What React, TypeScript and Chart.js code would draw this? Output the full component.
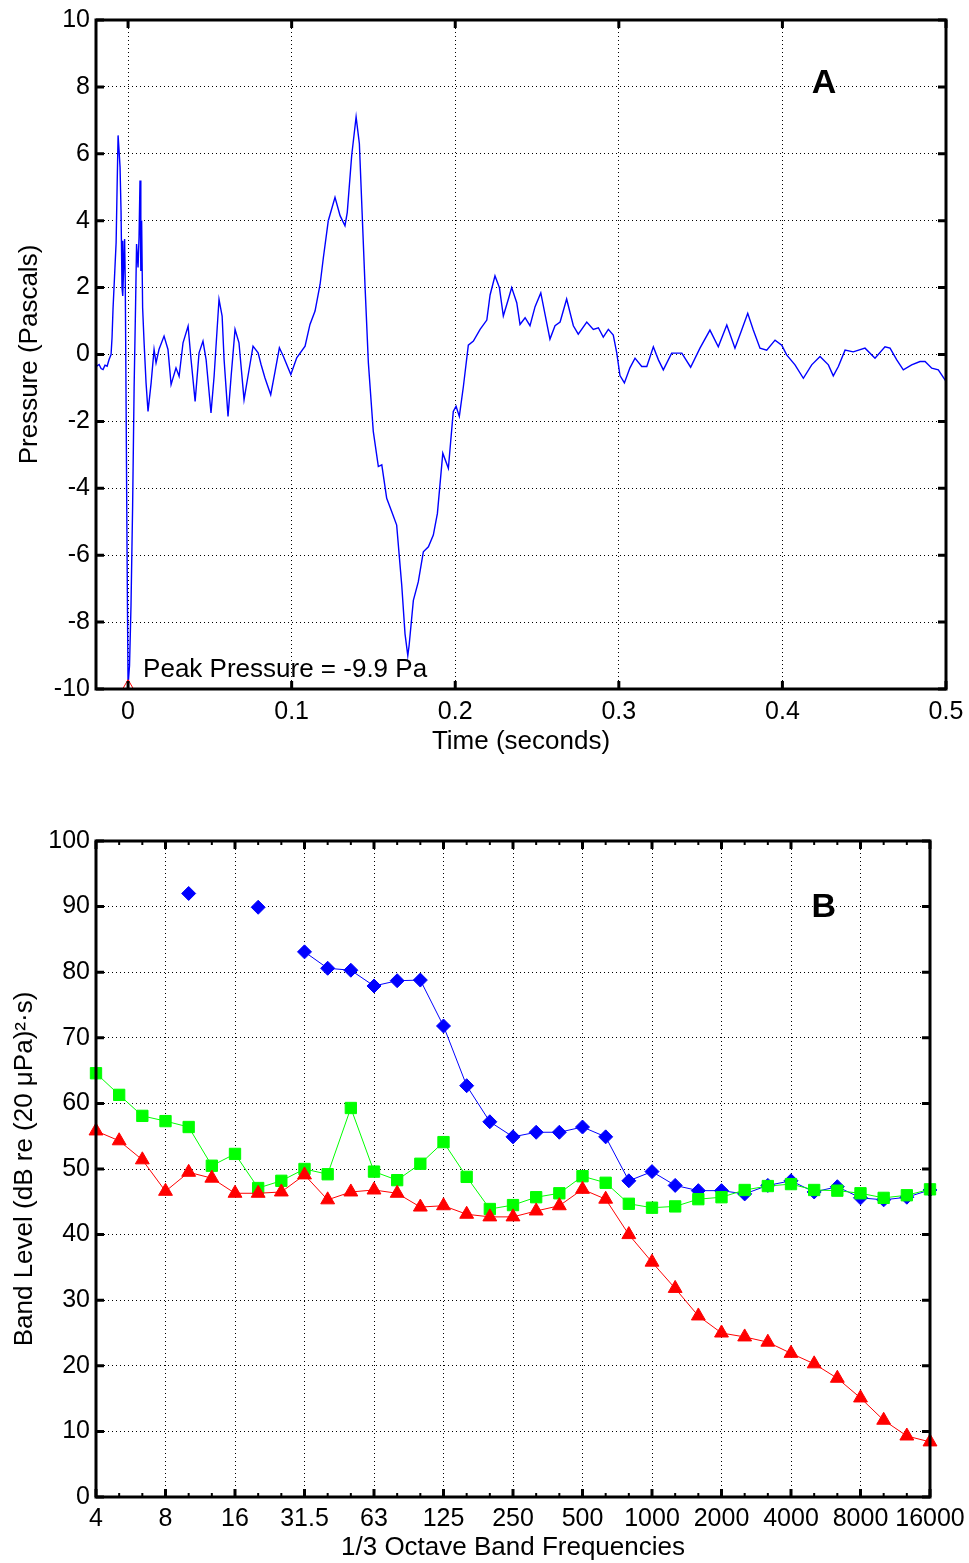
import React, { useEffect, useRef } from 'react';
import { Chart, registerables } from 'chart.js';

Chart.register(...registerables);

// ---------- Panel A: pressure waveform ----------
const TIME_S = [
  -0.0196, -0.0177, -0.0165, -0.0153, -0.0141, -0.0128, -0.0116, -0.0104, -0.0098, -0.0092,
  -0.0083, -0.0073, -0.0067, -0.0061, -0.0055, -0.0049, -0.0043, -0.0037, -0.0034, -0.0031,
  -0.0021, -0.0017, -0.0012, -0.0006, 0.0000, 0.0009, 0.0018, 0.0028, 0.0037, 0.0046,
  0.0052, 0.0061, 0.0067, 0.0073, 0.0078, 0.0083, 0.0089, 0.0098, 0.0110, 0.0122,
  0.0141, 0.0159, 0.0171, 0.0189, 0.0220, 0.0244, 0.0263, 0.0293, 0.0312, 0.0336,
  0.0367, 0.0385, 0.0410, 0.0434, 0.0458, 0.0477, 0.0507, 0.0526, 0.0556, 0.0575,
  0.0587, 0.0611, 0.0630, 0.0654, 0.0678, 0.0709, 0.0733, 0.0764, 0.0795, 0.0813,
  0.0837, 0.0872, 0.0899, 0.0925, 0.0949, 0.0995, 0.1031, 0.1082, 0.1112, 0.1143,
  0.1174, 0.1194, 0.1224, 0.1265, 0.1296, 0.1326, 0.1340, 0.1367, 0.1394, 0.1414,
  0.1449, 0.1469, 0.1499, 0.1530, 0.1551, 0.1581, 0.1612, 0.1642, 0.1673, 0.1693,
  0.1710, 0.1718, 0.1744, 0.1774, 0.1805, 0.1836, 0.1866, 0.1891, 0.1924, 0.1958,
  0.1988, 0.2005, 0.2025, 0.2050, 0.2080, 0.2111, 0.2152, 0.2193, 0.2213, 0.2243,
  0.2270, 0.2294, 0.2325, 0.2345, 0.2376, 0.2396, 0.2427, 0.2457, 0.2488, 0.2523,
  0.2549, 0.2579, 0.2610, 0.2641, 0.2681, 0.2722, 0.2752, 0.2804, 0.2844, 0.2875,
  0.2905, 0.2936, 0.2966, 0.2987, 0.3007, 0.3034, 0.3068, 0.3099, 0.3140, 0.3171,
  0.3211, 0.3242, 0.3272, 0.3323, 0.3385, 0.3439, 0.3496, 0.3557, 0.3608, 0.3660,
  0.3710, 0.3751, 0.3788, 0.3822, 0.3863, 0.3904, 0.3955, 0.3996, 0.4026, 0.4077,
  0.4128, 0.4179, 0.4230, 0.4281, 0.4311, 0.4342, 0.4383, 0.4433, 0.4505, 0.4566,
  0.4627, 0.4658, 0.4699, 0.4739, 0.4790, 0.4841, 0.4872, 0.4913, 0.4953, 0.4994,
  0.5000,
];

const PRESSURE_PA = [
  -0.36, -0.30, -0.42, -0.45, -0.32, -0.35, -0.15, 0.0, 0.5, 1.35,
  2.3, 3.35, 5.0, 6.55, 6.1, 5.6, 4.3, 2.0, 3.4, 1.75,
  3.45, 2.1, -1.5, -6.0, -9.9, -9.3, -7.5, -4.5, -1.0, 1.5,
  3.3, 2.6, 3.5, 5.2, 2.5, 4.0, 1.4, 0.35, -0.85, -1.7,
  -0.85, 0.15, -0.25, 0.15, 0.55, 0.15, -0.9, -0.4, -0.65, 0.35,
  0.85, -0.15, -1.4, 0.05, 0.4, -0.15, -1.75, -0.65, 1.65, 1.15,
  -0.15, -1.85, -0.65, 0.75, 0.35, -1.35, -0.65, 0.25, 0.05, -0.3,
  -0.7, -1.2, -0.5, 0.2, -0.05, -0.6, -0.1, 0.25, 0.9, 1.3,
  2.1, 2.9, 4.0, 4.7, 4.15, 3.85, 4.25, 5.95, 7.1, 6.3,
  2.0, -0.25, -2.3, -3.35, -3.3, -4.3, -4.7, -5.1, -6.9, -8.35,
  -9.0, -8.7, -7.35, -6.8, -5.9, -5.75, -5.4, -4.75, -2.95, -3.4,
  -1.7, -1.55, -1.85, -0.95, 0.28, 0.4, 0.75, 1.03, 1.78, 2.35,
  2.0, 1.15, 1.66, 2.0, 1.55, 0.9, 1.1, 0.86, 1.43, 1.84,
  1.2, 0.46, 0.86, 0.97, 1.66, 0.86, 0.61, 0.97, 0.75, 0.8,
  0.52, 0.75, 0.58, 0.06, -0.63, -0.85, -0.4, -0.11, -0.36, -0.36,
  0.23, -0.16, -0.46, 0.04, 0.04, -0.38, 0.19, 0.73, 0.23, 0.88,
  0.19, 0.73, 1.23, 0.73, 0.19, 0.13, 0.43, 0.28, -0.01, -0.31,
  -0.71, -0.31, -0.06, -0.31, -0.64, -0.36, 0.13, 0.08, 0.19, -0.11,
  0.23, 0.19, -0.16, -0.46, -0.31, -0.21, -0.21, -0.41, -0.46, -0.76,
  -0.8,
];

const PEAK_TIME_S = 0;
const PEAK_PRESSURE_PA = -9.9;
const A_X_TICKS = [0, 0.1, 0.2, 0.3, 0.4, 0.5];
const A_X_MIN = -0.0196;
const A_X_MAX = 0.5;

// ---------- Panel B: 1/3 octave band levels ----------
const BAND_LABELS = [
  '4', '5', '6.3', '8', '10', '12.5', '16', '20', '25', '31.5', '40', '50', '63', '80',
  '100', '125', '160', '200', '250', '315', '400', '500', '630', '800', '1000', '1250',
  '1600', '2000', '2500', '3150', '4000', '5000', '6300', '8000', '10000', '12500', '16000',
];

const BLUE_LEVELS = [
  null, null, null, null, 92.0, null, null, 89.9, null, 83.1, 80.6, 80.3, 77.9, 78.7,
  78.8, 71.8, 62.7, 57.2, 54.9, 55.6, 55.6, 56.4, 54.9, 48.2, 49.6, 47.5,
  46.7, 46.7, 46.2, 47.5, 48.2, 46.5, 47.3, 45.6, 45.3, 45.7, 46.8,
];

const GREEN_LEVELS = [
  64.6, 61.3, 58.1, 57.3, 56.4, 50.5, 52.3, 47.1, 48.2, 50.0, 49.2, 59.3, 49.6, 48.3,
  50.8, 54.1, 48.8, 43.9, 44.5, 45.7, 46.3, 48.9, 47.9, 44.7, 44.1, 44.3,
  45.4, 45.7, 46.8, 47.4, 47.7, 46.8, 46.7, 46.3, 45.6, 46.0, 46.9,
];

const RED_LEVELS = [
  55.8, 54.3, 51.4, 46.6, 49.5, 48.6, 46.3, 46.3, 46.5, 49.1, 45.3, 46.5, 46.8, 46.3,
  44.2, 44.4, 43.1, 42.7, 42.7, 43.6, 44.4, 46.9, 45.4, 40.0, 35.8, 31.8,
  27.6, 25.0, 24.4, 23.6, 21.9, 20.3, 18.1, 15.1, 11.7, 9.3, 8.4,
];

const FONT_FAMILY = '"Liberation Sans", Arial, Helvetica, sans-serif';
Chart.defaults.font.family = FONT_FAMILY;
Chart.defaults.color = '#000';

type Label = { text: string; x: number; y: number; font: string; align: CanvasTextAlign };

function makeFramePlugin(cfg: { majorLen: number; minorLen?: number; minorX?: number[]; labels: Label[] }) {
  return {
    id: 'frameTicks',
    afterDraw(chart: any) {
      const { ctx, chartArea: a } = chart;
      const xs = chart.scales.x;
      const ys = chart.scales.y;
      ctx.save();
      ctx.strokeStyle = '#000';
      ctx.lineCap = 'butt';
      if (cfg.minorX && cfg.minorLen) {
        ctx.lineWidth = 2;
        ctx.beginPath();
        cfg.minorX.forEach((v) => {
          const p = xs.getPixelForValue(v);
          ctx.moveTo(p, a.bottom);
          ctx.lineTo(p, a.bottom - cfg.minorLen!);
          ctx.moveTo(p, a.top);
          ctx.lineTo(p, a.top + cfg.minorLen!);
        });
        ctx.stroke();
      }
      const L = cfg.majorLen;
      ctx.lineWidth = 3;
      ctx.beginPath();
      xs.ticks.forEach((t: any) => {
        const p = xs.getPixelForValue(t.value);
        ctx.moveTo(p, a.bottom);
        ctx.lineTo(p, a.bottom - L);
        ctx.moveTo(p, a.top);
        ctx.lineTo(p, a.top + L);
      });
      ys.ticks.forEach((t: any) => {
        const p = ys.getPixelForValue(t.value);
        ctx.moveTo(a.left, p);
        ctx.lineTo(a.left + L, p);
        ctx.moveTo(a.right, p);
        ctx.lineTo(a.right - L, p);
      });
      ctx.stroke();
      ctx.lineWidth = 3;
      ctx.strokeRect(a.left, a.top, a.right - a.left, a.bottom - a.top);
      cfg.labels.forEach((l) => {
        ctx.font = l.font;
        ctx.fillStyle = '#000';
        ctx.textAlign = l.align;
        ctx.textBaseline = 'middle';
        ctx.fillText(l.text, xs.getPixelForValue(l.x), ys.getPixelForValue(l.y));
      });
      ctx.restore();
    },
  };
}

const GRID = { color: '#000', lineWidth: 1, drawTicks: false };
const BORDER = { display: false, dash: [1, 3] };
const TICK_FONT = { size: 25 };
const TITLE_FONT = { size: 26 };

const fixX = (h: number) => (s: any) => {
  s.height = h;
  s.paddingLeft = 0;
  s.paddingRight = 0;
};
const fixY = (w: number) => (s: any) => {
  s.width = w;
  s.paddingTop = 0;
  s.paddingBottom = 0;
};

export default function App() {
  const refA = useRef<HTMLCanvasElement>(null);
  const refB = useRef<HTMLCanvasElement>(null);

  useEffect(() => {
    const waveform = TIME_S.map((t, i) => ({ x: t, y: PRESSURE_PA[i] }));

    const chartA = new Chart(refA.current as HTMLCanvasElement, {
      type: 'line',
      data: {
        datasets: [
          {
            data: [{ x: PEAK_TIME_S, y: PEAK_PRESSURE_PA }],
            showLine: false,
            pointStyle: 'triangle',
            pointRadius: 6,
            pointBorderColor: '#ff0000',
            pointBackgroundColor: 'rgba(0,0,0,0)',
            pointBorderWidth: 1,
            clip: false as any,
          },
          {
            data: waveform,
            borderColor: '#0000ff',
            borderWidth: 1.4,
            pointRadius: 0,
            tension: 0,
          },
        ],
      },
      options: {
        responsive: false,
        animation: false,
        layout: { padding: { top: 20, right: 23, bottom: 0, left: 0 } },
        plugins: { legend: { display: false }, tooltip: { enabled: false } },
        scales: {
          x: {
            type: 'linear',
            min: A_X_MIN,
            max: A_X_MAX,
            afterBuildTicks: (s: any) => {
              s.ticks = A_X_TICKS.map((v) => ({ value: v }));
            },
            afterFit: fixX(91),
            grid: GRID,
            border: BORDER,
            ticks: {
              font: TICK_FONT,
              padding: 8,
              maxRotation: 0,
              autoSkip: false,
              callback: (v: any) => String(Math.round(Number(v) * 10) / 10),
            },
            title: { display: true, text: 'Time (seconds)', font: TITLE_FONT, padding: { top: 0, bottom: 23 } },
          },
          y: {
            type: 'linear',
            min: -10,
            max: 10,
            afterFit: fixY(96),
            grid: GRID,
            border: BORDER,
            ticks: { stepSize: 2, font: TICK_FONT, padding: 6 },
            title: { display: true, text: 'Pressure (Pascals)', font: TITLE_FONT, padding: { top: 14, bottom: 0 } },
          },
        },
      },
      plugins: [
        makeFramePlugin({
          majorLen: 8,
          labels: [
            { text: 'Peak Pressure = -9.9 Pa', x: 0.0092, y: -9.43, font: `26px ${FONT_FAMILY}`, align: 'left' },
            { text: 'A', x: 0.4254, y: 8.1, font: `bold 34px ${FONT_FAMILY}`, align: 'center' },
          ],
        }),
      ],
    } as any);

    const bandData = (vals: (number | null)[]) => vals.map((v, i) => ({ x: i, y: v }));

    const chartB = new Chart(refB.current as HTMLCanvasElement, {
      type: 'line',
      data: {
        datasets: [
          {
            data: bandData(RED_LEVELS),
            borderColor: '#ff0000',
            backgroundColor: '#ff0000',
            borderWidth: 1,
            pointStyle: 'triangle',
            pointRadius: 8,
            pointBorderWidth: 1,
            pointBorderColor: '#ff0000',
            pointBackgroundColor: '#ff0000',
            clip: false as any,
          },
          {
            data: bandData(GREEN_LEVELS),
            borderColor: '#00ff00',
            backgroundColor: '#00ff00',
            borderWidth: 1,
            pointStyle: 'rect',
            pointRadius: 8,
            pointBorderWidth: 1,
            pointBorderColor: '#00ff00',
            pointBackgroundColor: '#00ff00',
            clip: false as any,
          },
          {
            data: bandData(BLUE_LEVELS),
            borderColor: '#0000ff',
            backgroundColor: '#0000ff',
            borderWidth: 1,
            pointStyle: 'rectRot',
            pointRadius: 7,
            pointBorderWidth: 1,
            pointBorderColor: '#0000ff',
            pointBackgroundColor: '#0000ff',
            spanGaps: false,
            clip: false as any,
          },
        ],
      },
      options: {
        responsive: false,
        animation: false,
        layout: { padding: { top: 61, right: 39, bottom: 0, left: 0 } },
        plugins: { legend: { display: false }, tooltip: { enabled: false } },
        scales: {
          x: {
            type: 'linear',
            min: 0,
            max: BAND_LABELS.length - 1,
            afterFit: fixX(66),
            grid: GRID,
            border: BORDER,
            ticks: {
              stepSize: 3,
              font: TICK_FONT,
              padding: 7,
              maxRotation: 0,
              autoSkip: false,
              callback: (v: any) => BAND_LABELS[Math.round(Number(v))] ?? '',
            },
            title: { display: true, text: '1/3 Octave Band Frequencies', font: TITLE_FONT, padding: { top: 0, bottom: 0 } },
          },
          y: {
            type: 'linear',
            min: 0,
            max: 100,
            afterFit: fixY(96),
            grid: GRID,
            border: BORDER,
            ticks: { stepSize: 10, font: TICK_FONT, padding: 6 },
            title: {
              display: true,
              text: 'Band Level (dB re (20 \u03BCPa)\u00B2\u00B7s)',
              font: TITLE_FONT,
              padding: { top: 9, bottom: 0 },
            },
          },
        },
      },
      plugins: [
        makeFramePlugin({
          majorLen: 8,
          minorLen: 4,
          minorX: BAND_LABELS.map((_, i) => i),
          labels: [{ text: 'B', x: 31.42, y: 89.9, font: `bold 34px ${FONT_FAMILY}`, align: 'center' }],
        }),
      ],
    } as any);

    return () => {
      chartA.destroy();
      chartB.destroy();
    };
  }, []);

  return (
    <div style={{ position: 'absolute', left: 0, top: 0, width: 969, height: 1563, background: '#fff' }}>
      <canvas ref={refA} width={969} height={780} style={{ position: 'absolute', left: 0, top: 0 }} />
      <canvas ref={refB} width={969} height={783} style={{ position: 'absolute', left: 0, top: 780 }} />
    </div>
  );
}
